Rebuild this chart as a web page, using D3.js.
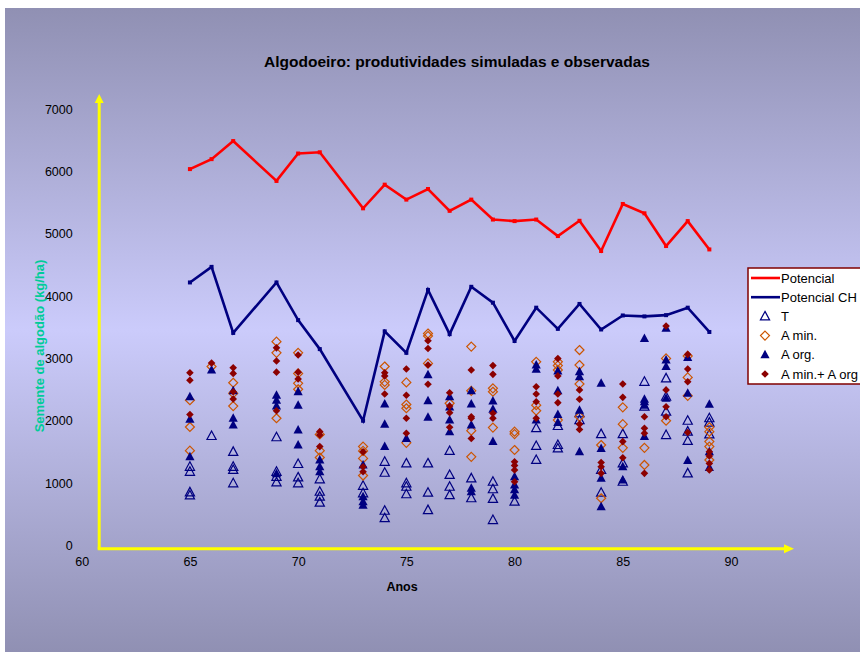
<!DOCTYPE html>
<html>
<head>
<meta charset="utf-8">
<script src="https://cdnjs.cloudflare.com/ajax/libs/d3/7.8.5/d3.min.js"></script>
<style>
  body { margin: 0; background: #fff; }
  svg { display: block; font-family: "Liberation Sans", Arial, sans-serif; }
</style>
</head>
<body>
<div id="chart"></div>
<script>
// simulated potential yields (lines)
var years = [65, 66, 67, 69, 70, 71, 73, 74, 75, 76, 77, 78, 79, 80, 81, 82, 83, 84, 85, 86, 87, 88, 89];
var potencial = [6040, 6200, 6490, 5850, 6290, 6310, 5410, 5790, 5550, 5720, 5370, 5550, 5230, 5205, 5230, 4965, 5210, 4725, 5480, 5330, 4805, 5205, 4750];
var potencialCH = [4220, 4470, 3410, 4220, 3615, 3150, 2000, 3435, 3090, 4100, 3390, 4150, 3895, 3280, 3815, 3475, 3875, 3465, 3690, 3675, 3695, 3815, 3425];

// observed yields [year, value]
var obsT = [
  [65, 1260], [65, 1180], [65, 850], [65, 800], [66, 1755], [67, 1500], [67, 1260], [67, 1210], [67, 995],
  [69, 1735], [69, 1180], [69, 1100], [69, 1010], [70, 1305], [70, 1090], [70, 995],
  [71, 1060], [71, 860], [71, 780], [71, 685], [73, 955], [73, 835],
  [74, 1340], [74, 1165], [74, 555], [74, 435], [75, 1315], [75, 995], [75, 940], [75, 820],
  [76, 1315], [76, 845], [76, 565], [77, 1515], [77, 1130], [77, 940], [77, 805],
  [78, 1075], [78, 755], [79, 1020], [79, 900], [79, 745], [79, 405], [80, 700],
  [81, 1880], [81, 1595], [81, 1370], [82, 1915], [82, 1610], [82, 1555], [83, 2120], [83, 2010],
  [84, 1785], [84, 1210], [84, 845], [85, 1785], [85, 1315], [85, 1020], [86, 2625], [86, 2225],
  [87, 2680], [87, 2385], [87, 2145], [87, 1770], [88, 2000], [88, 1825], [88, 1675], [88, 1155],
  [89, 2040], [89, 1970], [89, 1780]
];
var obsAMin = [
  [65, 2330], [65, 1900], [65, 1520], [66, 2870], [67, 2610], [67, 2440], [67, 2235],
  [69, 3270], [69, 3090], [69, 2040], [70, 3090], [70, 2760], [70, 2600], [70, 2505],
  [71, 1780], [71, 1520], [71, 1410], [73, 1585], [73, 1515], [73, 1395], [73, 1120],
  [74, 2870], [74, 2625], [74, 2575], [75, 2615], [75, 2260], [75, 2200], [75, 1645],
  [76, 3400], [76, 3360], [76, 2920], [77, 2280], [78, 3190], [78, 2480], [78, 1840], [78, 1420],
  [79, 2520], [79, 2465], [79, 1890], [80, 1825], [80, 1785], [80, 1530],
  [81, 2945], [81, 2250], [81, 2160], [82, 2945], [82, 2885], [82, 2815], [82, 2010],
  [83, 3135], [83, 2895], [83, 2590], [83, 2065], [84, 1610], [84, 755],
  [85, 2215], [85, 1945], [85, 1565], [86, 1565], [86, 1290], [87, 3000], [87, 2000],
  [88, 3040], [88, 2695], [88, 2400], [89, 1895], [89, 1825], [89, 1665], [89, 1585], [89, 1370]
];
var obsAOrg = [
  [65, 2385], [65, 2025], [65, 1420], [66, 2815], [67, 2480], [67, 2040], [67, 1930],
  [69, 2410], [69, 2330], [69, 2235], [69, 1150], [70, 2465], [70, 2250], [70, 1850], [70, 1610],
  [71, 1370], [71, 1260], [71, 1180], [73, 1290], [73, 780], [73, 700], [73, 645],
  [74, 2270], [74, 1945], [74, 1585], [75, 1715], [76, 2740], [76, 2320], [76, 2055],
  [77, 2385], [77, 2220], [77, 2010], [77, 1825], [78, 2480], [78, 2270], [78, 1930], [78, 915], [78, 860],
  [79, 2315], [79, 2185], [79, 1665], [80, 1100], [80, 970], [80, 890], [80, 805],
  [81, 2895], [81, 2825], [81, 2010], [82, 2800], [82, 2480], [82, 2100], [82, 1970],
  [83, 2785], [83, 2705], [83, 2170], [83, 1500], [84, 2600], [84, 1555], [84, 1075], [84, 620],
  [85, 1260], [85, 1050], [86, 3320], [86, 2345], [86, 2305], [86, 2250], [86, 1745],
  [87, 3485], [87, 2975], [87, 2870], [87, 2360], [88, 3015], [88, 2440], [88, 1360],
  [89, 2265], [89, 1500], [89, 1250]
];
var obsAMinOrg = [
  [65, 2770], [65, 2650], [65, 2100], [66, 2925], [67, 2850], [67, 2760], [67, 2465], [67, 2350],
  [69, 3170], [69, 2960], [69, 2780], [69, 2160], [70, 3055], [70, 2780], [70, 2670],
  [71, 1825], [71, 1770], [71, 1585], [73, 1500], [73, 1260], [73, 1180],
  [74, 2770], [74, 2720], [74, 2430], [75, 2830], [75, 2410], [75, 2040], [75, 1800],
  [76, 3285], [76, 3160], [76, 2895], [76, 2585], [77, 2450], [77, 2235], [77, 2130], [77, 1895],
  [78, 2815], [78, 2065], [78, 2040], [78, 1715], [79, 2885], [79, 2745], [79, 2120], [79, 2040],
  [80, 1340], [80, 1280], [80, 1210], [80, 1020], [81, 2545], [81, 2430], [81, 2305], [81, 2040],
  [82, 3000], [82, 2720], [82, 2430], [82, 2290], [83, 2495], [83, 2345], [83, 1945], [83, 1860],
  [84, 1330], [84, 1260], [84, 1155], [85, 2590], [85, 2375], [85, 1665], [85, 1405],
  [86, 2065], [86, 1880], [86, 1800], [86, 1155], [87, 3520], [87, 2495], [87, 2225], [87, 2065],
  [88, 3065], [88, 2830], [88, 2625], [88, 1810], [89, 1500], [89, 1435], [89, 1315], [89, 1210]
];

var xTicks = [60, 65, 70, 75, 80, 85, 90];
var yTicks = [0, 1000, 2000, 3000, 4000, 5000, 6000, 7000];

var svgWidth = 860, svgHeight = 652;

var svg = d3.select("#chart").append("svg")
    .attr("width", svgWidth)
    .attr("height", svgHeight);

// background gradient (dark at edges, light in the middle)
var grad = svg.append("defs").append("linearGradient")
    .attr("id", "bg").attr("x1", 0).attr("y1", 0).attr("x2", 0).attr("y2", 1);
grad.append("stop").attr("offset", "0%").attr("stop-color", "#9090b3");
grad.append("stop").attr("offset", "50%").attr("stop-color", "#cbcbfb");
grad.append("stop").attr("offset", "100%").attr("stop-color", "#9090b3");

svg.append("rect")
    .attr("x", 5).attr("y", 8)
    .attr("width", svgWidth - 5).attr("height", svgHeight - 8)
    .attr("fill", "url(#bg)");

// scales
var xScale = d3.scaleLinear().domain([60, 90]).range([81.7, 731]);
var yScale = d3.scaleLinear().domain([0, 7000]).range([545.3, 109.3]);

// axes (labels only)
var yAxis = d3.axisLeft(yScale).tickValues(yTicks).tickSize(0).tickPadding(9).tickFormat(d3.format("d"));
var xAxis = d3.axisBottom(xScale).tickValues(xTicks).tickSize(0).tickPadding(12);

var yG = svg.append("g").attr("transform", `translate(${xScale(60)},0)`).call(yAxis);
var xG = svg.append("g").attr("transform", `translate(0,${yScale(0)})`).call(xAxis);
[yG, xG].forEach(function(g) {
  g.select(".domain").remove();
  g.selectAll("text").attr("font-size", 12.5).attr("fill", "#000")
    .attr("font-family", "'Liberation Sans', Arial, sans-serif");
});

// yellow arrow axes
var ax0 = xScale(60) + 17.5, ay0 = yScale(0) + 3.5;
svg.append("line").attr("x1", ax0).attr("y1", ay0).attr("x2", ax0).attr("y2", 101)
    .attr("stroke", "#ffff00").attr("stroke-width", 3);
svg.append("line").attr("x1", ax0 - 1.5).attr("y1", ay0).attr("x2", 786).attr("y2", ay0)
    .attr("stroke", "#ffff00").attr("stroke-width", 3);
svg.append("path").attr("d", `M${ax0 - 4.5},${103} L${ax0},${94} L${ax0 + 4.5},${103} Z`).attr("fill", "#ffff00");
svg.append("path").attr("d", `M784,${ay0 - 4.5} L794,${ay0} L784,${ay0 + 4.5} Z`).attr("fill", "#ffff00");

// titles
svg.append("text")
    .attr("x", 457).attr("y", 67)
    .attr("text-anchor", "middle")
    .attr("font-size", 15.5).attr("font-weight", "bold")
    .text("Algodoeiro: produtividades simuladas e observadas");

svg.append("text")
    .attr("x", 402).attr("y", 591)
    .attr("text-anchor", "middle")
    .attr("font-size", 12.5).attr("font-weight", "bold")
    .text("Anos");

svg.append("text")
    .attr("transform", "translate(44, 346) rotate(-90)")
    .attr("text-anchor", "middle")
    .attr("font-size", 13).attr("font-weight", "bold")
    .attr("fill", "#00cc99")
    .text("Semente de algodão (kg/ha)");

// marker shapes
var triPath = "M0,-5 L4.6,3.5 L-4.6,3.5 Z";
var diaPath = "M0,-4.5 L4.5,0 L0,4.5 L-4.5,0 Z";
var diaSmall = "M0,-3.8 L3.8,0 L0,3.8 L-3.8,0 Z";

var series = [
  { data: obsT, path: triPath, fill: "none", stroke: "#000080", sw: 1.2 },
  { data: obsAMin, path: diaPath, fill: "none", stroke: "#cc5500", sw: 1.2 },
  { data: obsAOrg, path: triPath, fill: "#000080", stroke: "none", sw: 0 },
  { data: obsAMinOrg, path: diaSmall, fill: "#8b0000", stroke: "none", sw: 0 }
];

series.forEach(function(s) {
  svg.append("g").selectAll("path")
    .data(s.data)
    .enter()
    .append("path")
    .attr("d", s.path)
    .attr("transform", d => `translate(${xScale(d[0])},${yScale(d[1])})`)
    .attr("fill", s.fill)
    .attr("stroke", s.stroke)
    .attr("stroke-width", s.sw);
});

// potential lines
var line = d3.line().x(d => xScale(d[0])).y(d => yScale(d[1]));
[[potencial, "#ff0000"], [potencialCH, "#000080"]].forEach(function(p) {
  var pts = years.map((y, i) => [y, p[0][i]]);
  svg.append("path").datum(pts)
    .attr("d", line)
    .attr("fill", "none")
    .attr("stroke", p[1])
    .attr("stroke-width", 2.6);
  svg.append("g").selectAll("rect")
    .data(pts).enter().append("rect")
    .attr("x", d => xScale(d[0]) - 2).attr("y", d => yScale(d[1]) - 2)
    .attr("width", 4).attr("height", 4)
    .attr("fill", p[1]);
});

// legend
var legend = svg.append("g").attr("transform", "translate(748,268)");
legend.append("rect")
    .attr("width", 120).attr("height", 116)
    .attr("fill", "#ffffff").attr("stroke", "#800000").attr("stroke-width", 1.5);

var legendItems = [
  { label: "Potencial", type: "line", color: "#ff0000" },
  { label: "Potencial CH", type: "line", color: "#000080" },
  { label: "T", type: "mark", path: triPath, fill: "none", stroke: "#000080" },
  { label: "A min.", type: "mark", path: diaPath, fill: "none", stroke: "#cc5500" },
  { label: "A org.", type: "mark", path: triPath, fill: "#000080", stroke: "none" },
  { label: "A min.+ A org", type: "mark", path: diaSmall, fill: "#8b0000", stroke: "none" }
];

legendItems.forEach(function(item, i) {
  var ly = 10 + i * 19.2;
  if (item.type === "line") {
    legend.append("line").attr("x1", 3).attr("x2", 32).attr("y1", ly).attr("y2", ly)
      .attr("stroke", item.color).attr("stroke-width", 2.6);
  } else {
    legend.append("path").attr("d", item.path)
      .attr("transform", `translate(17,${ly})`)
      .attr("fill", item.fill).attr("stroke", item.stroke).attr("stroke-width", 1.2);
  }
  legend.append("text")
    .attr("x", 33).attr("y", ly).attr("dy", "0.35em")
    .attr("font-size", 13).attr("fill", "#000")
    .text(item.label);
});
</script>
</body>
</html>
